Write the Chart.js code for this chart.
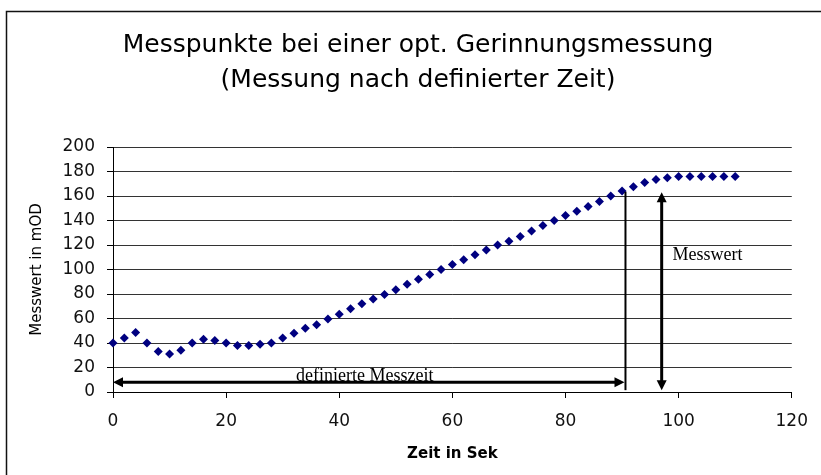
<!DOCTYPE html>
<html>
<head>
<meta charset="utf-8">
<script src="https://cdn.jsdelivr.net/npm/chart.js@4.4.0/dist/chart.umd.min.js"></script>
<style>
  html, body { margin: 0; padding: 0; background: #fff; }
  #wrap { width: 821px; height: 475px; }
</style>
</head>
<body>
<div id="wrap"><canvas id="chart" width="821" height="475"></canvas></div>
<script>
// Messpunkte, alle 2 Sekunden
const times = [0, 2, 4, 6, 8, 10, 12, 14, 16, 18, 20, 22, 24, 26, 28, 30, 32, 34, 36, 38,
  40, 42, 44, 46, 48, 50, 52, 54, 56, 58, 60, 62, 64, 66, 68, 70, 72, 74, 76, 78,
  80, 82, 84, 86, 88, 90, 92, 94, 96, 98, 100, 102, 104, 106, 108, 110];
const values = [40, 44, 48.5, 40, 33, 31, 34, 40, 43, 42, 40, 38, 38, 39, 40, 44, 48, 52, 55, 59.5,
  63.5, 68, 72, 76, 79.5, 83.5, 88, 92, 96, 100, 104, 108, 112, 116, 120, 123, 127, 131.5, 136, 140,
  144, 147.5, 151.5, 155.5, 160, 164, 167.5, 171, 173.5, 175, 176, 176, 176, 176, 176, 176];

const xTicks = [0, 20, 40, 60, 80, 100, 120];
const yTicks = [0, 20, 40, 60, 80, 100, 120, 140, 160, 180, 200];

const titleLines = ["Messpunkte bei einer opt. Gerinnungsmessung", "(Messung nach definierter Zeit)"];

// annotations (in data units)
const messzeit = 90.6;      // end of "definierte Messzeit"
const messwertX = 97;       // x of the "Messwert" arrow
const messwertTop = 163;    // value reached at the Messzeit
const spanArrowY = 8;       // height of the horizontal arrow
const spanLabel = "definierte Messzeit";
const valueLabel = "Messwert";

const frameAndTitle = {
  id: "frameAndTitle",
  beforeDraw(chart) {
    const ctx = chart.ctx;
    ctx.save();
    ctx.fillStyle = "#fff";
    ctx.fillRect(0, 0, chart.width, chart.height);
    ctx.strokeStyle = "#111";
    ctx.lineWidth = 1.5;
    ctx.strokeRect(6.5, 11.5, chart.width + 20, chart.height + 20);
    ctx.fillStyle = "#000";
    ctx.font = "25px 'DejaVu Sans'";
    ctx.textAlign = "center";
    ctx.textBaseline = "middle";
    ctx.fillText(titleLines[0], 418, 45);
    ctx.fillText(titleLines[1], 418, 80);
    ctx.restore();
  }
};

function arrowHead(ctx, x, y, dx, dy) {
  const len = 10, half = 5;
  ctx.beginPath();
  ctx.moveTo(x, y);
  ctx.lineTo(x - dx * len - dy * half, y - dy * len + dx * half);
  ctx.lineTo(x - dx * len + dy * half, y - dy * len - dx * half);
  ctx.closePath();
  ctx.fill();
}

const annotations = {
  id: "annotations",
  afterDatasetsDraw(chart) {
    const { ctx, scales: { x, y } } = chart;
    ctx.save();
    ctx.strokeStyle = "#000";
    ctx.fillStyle = "#000";

    // labels first so the arrow runs over the text bottom
    ctx.font = "18px 'Liberation Serif'";
    ctx.textBaseline = "alphabetic";
    ctx.textAlign = "center";
    ctx.fillText(spanLabel, x.getPixelForValue(44.5), y.getPixelForValue(8.7));
    ctx.textAlign = "left";
    ctx.fillText(valueLabel, x.getPixelForValue(98.9), y.getPixelForValue(108));

    // vertical line at the Messzeit
    const xm = x.getPixelForValue(messzeit);
    ctx.lineWidth = 2;
    ctx.beginPath();
    ctx.moveTo(xm, y.getPixelForValue(1.5));
    ctx.lineTo(xm, y.getPixelForValue(messwertTop + 0.5));
    ctx.stroke();

    // horizontal double arrow
    const ya = y.getPixelForValue(spanArrowY);
    const x0 = x.getPixelForValue(0);
    ctx.lineWidth = 3;
    ctx.beginPath();
    ctx.moveTo(x0 + 6, ya);
    ctx.lineTo(xm - 6, ya);
    ctx.stroke();
    arrowHead(ctx, x0, ya, -1, 0);
    arrowHead(ctx, xm - 1, ya, 1, 0);

    // vertical double arrow (Messwert)
    const xv = x.getPixelForValue(messwertX);
    const yTop = y.getPixelForValue(messwertTop);
    const yBot = y.getPixelForValue(1.5);
    ctx.beginPath();
    ctx.moveTo(xv, yTop + 6);
    ctx.lineTo(xv, yBot - 6);
    ctx.stroke();
    arrowHead(ctx, xv, yTop, 0, -1);
    arrowHead(ctx, xv, yBot, 0, 1);
    ctx.restore();
  }
};

new Chart(document.getElementById("chart"), {
  type: "scatter",
  data: {
    datasets: [{
      data: times.map((t, i) => ({ x: t, y: values[i] })),
      pointStyle: "rectRot",
      pointRadius: 4.5,
      pointBackgroundColor: "#000080",
      pointBorderColor: "#000080",
      pointBorderWidth: 0,
      showLine: false,
      clip: false
    }]
  },
  options: {
    responsive: false,
    animation: false,
    layout: { padding: { top: 147, right: 29, left: 0, bottom: 0 } },
    plugins: {
      legend: { display: false },
      tooltip: { enabled: false },
      title: { display: false }
    },
    scales: {
      x: {
        type: "linear",
        min: 0,
        max: 120,
        afterFit(scale) { scale.height = 83; },
        afterBuildTicks(scale) { scale.ticks = xTicks.map(v => ({ value: v })); },
        ticks: {
          font: { family: "DejaVu Sans", size: 17 },
          color: "#111",
          padding: 13,
          maxRotation: 0
        },
        grid: { drawOnChartArea: false, drawTicks: true, tickLength: 6, color: "#000", tickColor: "#000" },
        border: { display: true, color: "#000", width: 1 },
        title: {
          display: true,
          text: "Zeit in Sek",
          font: { family: "DejaVu Sans", size: 15, weight: "bold" },
          color: "#000",
          padding: { top: 0, bottom: 12 }
        }
      },
      y: {
        min: 0,
        max: 200,
        afterFit(scale) { scale.width = 113; },
        afterBuildTicks(scale) { scale.ticks = yTicks.map(v => ({ value: v })); },
        ticks: {
          font: { family: "DejaVu Sans", size: 17 },
          color: "#111",
          padding: 12
        },
        grid: { color: "#333", tickLength: 6, tickColor: "#000" },
        border: { display: true, color: "#000", width: 1 },
        title: {
          display: true,
          text: "Messwert in mOD",
          font: { family: "DejaVu Sans", size: 15 },
          color: "#000",
          padding: { top: 28, bottom: 0 }
        }
      }
    }
  },
  plugins: [frameAndTitle, annotations]
});
</script>
</body>
</html>
